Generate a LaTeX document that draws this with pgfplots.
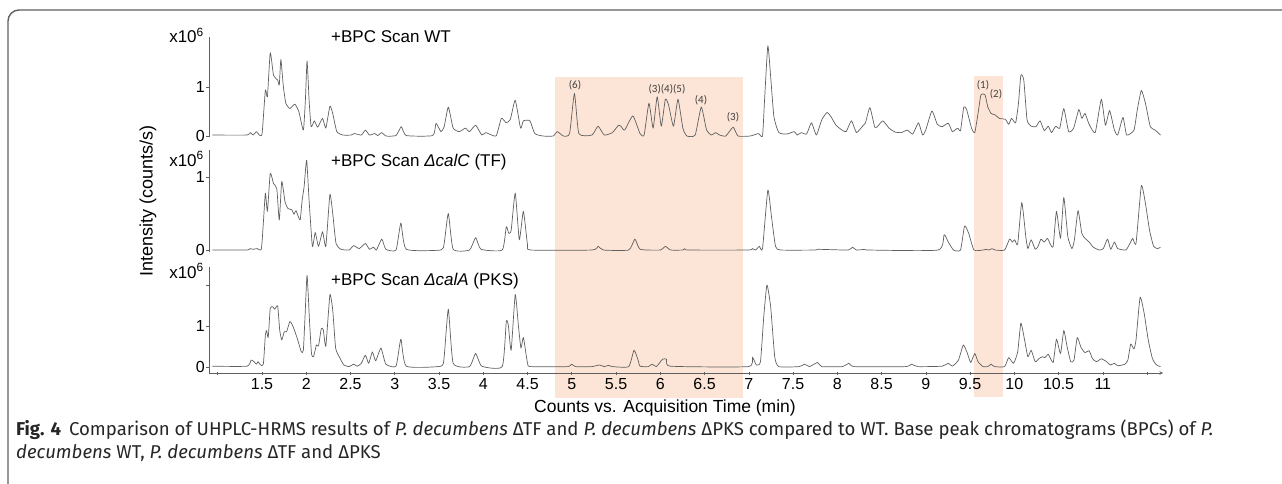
\documentclass[border=0pt]{standalone}
\usepackage{pgfplots}
\pgfplotsset{compat=1.18}
\usepackage{fontspec}
\setmainfont{Liberation Sans}
\newfontfamily\capfont{Fira Sans}
\newfontfamily\peakfont{Carlito}

\definecolor{hilite}{RGB}{252,228,214}
\definecolor{trace}{RGB}{95,95,95}
\definecolor{framec}{RGB}{95,95,95}

% retention time (min) vs intensity (x10^6 counts/s)
\pgfplotstableread{
t I
0.94 0.02
1.33 0.02
1.368 0.07
1.40 0.02
1.437 0.09
1.469 0.02
1.501 0.05
1.538 0.94
1.561 0.80
1.593 1.70
1.630 1.24
1.677 1.14
1.695 1.04
1.713 1.56
1.741 1.01
1.769 0.67
1.815 0.56
1.870 0.65
1.916 0.50
1.967 0.12
1.990 0.73
2.009 1.53
2.032 0.73
2.055 0.19
2.092 0.31
2.129 0.18
2.184 0.36
2.221 0.16
2.267 0.61
2.299 0.46
2.345 0.09
2.415 0.02
2.507 0.02
2.544 0.05
2.622 0.02
2.668 0.12
2.714 0.02
2.774 0.05
2.807 0.01
2.853 0.07
2.899 0.00
3.014 0.01
3.074 0.19
3.130 0.01
3.429 0.01
3.466 0.26
3.521 0.09
3.558 0.19
3.605 0.59
3.660 0.16
3.729 0.09
3.798 0.16
3.844 0.09
3.914 0.22
3.983 0.02
4.029 0.07
4.144 0.00
4.204 0.36
4.260 0.27
4.306 0.34
4.361 0.73
4.421 0.16
4.453 0.31
4.527 0.31
4.582 0.05
4.675 0.00
4.790 0.00
4.836 0.09
4.905 0.00
4.975 0.05
5.030 0.87
5.080 0.05
5.228 0.02
5.297 0.20
5.367 0.02
5.459 0.07
5.528 0.22
5.560 0.19
5.597 0.12
5.690 0.41
5.771 0.05
5.817 0.02
5.872 0.67
5.919 0.16
5.965 0.80
6.011 0.20
6.057 0.75
6.094 0.63
6.149 0.20
6.200 0.75
6.255 0.16
6.301 0.00
6.394 0.02
6.463 0.59
6.523 0.12
6.578 0.02
6.624 0.07
6.670 0.02
6.740 0.00
6.823 0.18
6.878 0.00
7.016 0.00
7.109 0.05
7.155 0.00
7.178 0.73
7.215 1.84
7.247 1.21
7.284 0.39
7.339 0.07
7.432 0.04
7.514 0.09
7.547 0.02
7.593 0.07
7.653 0.04
7.708 0.27
7.764 0.02
7.824 0.33
7.884 0.48
7.930 0.39
7.985 0.22
8.054 0.12
8.100 0.09
8.160 0.31
8.216 0.07
8.285 0.20
8.317 0.26
8.368 0.58
8.423 0.18
8.456 0.20
8.515 0.31
8.585 0.16
8.654 0.08
8.723 0.07
8.792 0.12
8.852 0.04
8.917 0.27
8.963 0.02
8.999 0.12
9.069 0.51
9.129 0.24
9.184 0.19
9.254 0.26
9.300 0.09
9.360 0.16
9.392 0.11
9.429 0.59
9.461 0.54
9.517 0.16
9.553 0.07
9.590 0.46
9.623 0.84
9.669 0.84
9.701 0.59
9.738 0.46
9.784 0.43
9.830 0.36
9.899 0.34
9.936 0.24
9.969 0.36
10.015 0.27
10.047 0.67
10.074 1.24
10.107 1.14
10.144 0.33
10.190 0.20
10.245 0.19
10.291 0.31
10.338 0.11
10.384 0.20
10.420 0.07
10.467 0.20
10.513 0.16
10.559 0.56
10.614 0.09
10.670 0.16
10.729 0.54
10.762 0.36
10.799 0.46
10.845 0.24
10.914 0.07
10.983 0.75
11.029 0.22
11.076 0.52
11.131 0.12
11.168 0.02
11.228 0.38
11.269 0.02
11.352 0.12
11.389 0.53
11.435 0.93
11.481 0.67
11.537 0.19
11.592 0.12
11.652 0.02
}\wt

\pgfplotstableread{
t I
0.94 0.00
1.33 0.00
1.363 0.02
1.40 0.01
1.446 0.02
1.492 0.01
1.515 0.37
1.538 0.78
1.561 0.53
1.593 1.05
1.630 0.91
1.667 0.84
1.695 0.41
1.723 0.94
1.760 0.66
1.792 0.57
1.838 0.55
1.861 0.49
1.884 0.54
1.930 0.41
1.953 0.68
1.976 0.87
2.004 1.23
2.032 0.68
2.069 0.05
2.101 0.24
2.138 0.05
2.184 0.25
2.221 0.05
2.267 0.76
2.299 0.50
2.336 0.09
2.392 0.01
2.484 0.00
2.535 0.06
2.599 0.02
2.668 0.09
2.714 0.01
2.760 0.04
2.793 0.00
2.853 0.15
2.899 0.01
3.014 0.00
3.069 0.37
3.130 0.01
3.521 0.00
3.558 0.09
3.605 0.50
3.660 0.01
3.844 0.00
3.914 0.17
3.974 0.01
4.214 0.00
4.260 0.32
4.287 0.23
4.315 0.27
4.361 0.78
4.407 0.14
4.453 0.53
4.500 0.07
4.536 0.00
5.228 0.00
5.297 0.05
5.357 0.00
5.643 0.00
5.713 0.15
5.773 0.01
6.002 0.00
6.057 0.05
6.117 0.00
6.255 0.00
6.278 0.02
6.315 0.00
6.993 0.00
7.040 0.02
7.076 0.00
7.118 0.05
7.155 0.02
7.215 0.82
7.256 0.46
7.302 0.05
7.362 0.00
7.754 0.00
7.787 0.01
8.124 0.00
8.170 0.04
8.216 0.00
8.317 0.01
8.354 0.00
9.138 0.00
9.207 0.21
9.254 0.11
9.313 0.00
9.392 0.00
9.438 0.33
9.484 0.23
9.544 0.00
9.646 0.00
9.682 0.01
9.715 0.00
9.747 0.02
9.784 0.00
9.890 0.00
9.946 0.15
9.978 0.11
10.005 0.14
10.038 0.08
10.084 0.65
10.130 0.18
10.153 0.02
10.190 0.14
10.236 0.01
10.268 0.05
10.301 0.15
10.338 0.11
10.375 0.16
10.407 0.08
10.439 0.05
10.476 0.53
10.522 0.16
10.559 0.72
10.605 0.18
10.651 0.02
10.679 0.14
10.720 0.54
10.762 0.23
10.799 0.16
10.845 0.11
10.891 0.04
10.960 0.00
11.006 0.02
11.053 0.15
11.089 0.01
11.131 0.11
11.168 0.02
11.260 0.00
11.306 0.09
11.338 0.16
11.375 0.09
11.435 0.88
11.481 0.64
11.528 0.27
11.574 0.05
11.620 0.02
11.652 0.04
}\calC

\pgfplotstableread{
t I
0.94 0.02
1.33 0.02
1.377 0.17
1.409 0.13
1.437 0.07
1.455 0.13
1.483 0.05
1.515 0.07
1.538 0.78
1.552 0.89
1.570 0.72
1.593 1.43
1.621 1.47
1.644 1.41
1.677 1.49
1.700 0.90
1.723 0.66
1.751 0.86
1.778 0.86
1.815 1.11
1.852 0.98
1.898 0.70
1.944 0.37
1.967 0.41
1.986 1.23
2.009 2.24
2.036 1.15
2.059 0.33
2.082 0.25
2.115 0.54
2.138 0.51
2.170 0.94
2.193 0.90
2.221 0.51
2.267 1.76
2.299 1.39
2.332 0.46
2.378 0.23
2.424 0.05
2.484 0.01
2.535 0.07
2.576 0.02
2.622 0.09
2.668 0.29
2.705 0.09
2.747 0.37
2.784 0.15
2.844 0.46
2.899 0.07
3.014 0.02
3.069 0.68
3.130 0.02
3.521 0.02
3.558 0.25
3.605 1.41
3.660 0.09
3.844 0.01
3.914 0.33
3.983 0.02
4.214 0.01
4.260 1.11
4.283 1.02
4.315 0.41
4.361 1.77
4.398 0.98
4.426 0.46
4.453 0.72
4.500 0.09
4.536 0.01
4.951 0.01
4.997 0.07
5.043 0.01
5.228 0.01
5.311 0.05
5.367 0.01
5.413 0.04
5.459 0.01
5.643 0.01
5.703 0.41
5.749 0.17
5.771 0.02
5.863 0.01
5.909 0.07
5.956 0.01
6.025 0.19
6.071 0.19
6.117 0.02
6.993 0.01
7.040 0.24
7.086 0.05
7.132 0.13
7.169 1.23
7.205 2.00
7.247 1.47
7.293 0.25
7.339 0.01
7.570 0.01
7.630 0.07
7.685 0.01
7.777 0.11
7.824 0.01
8.054 0.01
8.133 0.09
8.193 0.01
8.769 0.01
8.838 0.07
8.908 0.01
9.184 0.02
9.254 0.09
9.300 0.02
9.369 0.17
9.424 0.54
9.470 0.33
9.507 0.11
9.553 0.33
9.590 0.13
9.646 0.01
9.701 0.01
9.738 0.07
9.775 0.01
9.890 0.01
9.936 0.23
9.991 0.09
10.038 0.37
10.074 1.07
10.116 0.66
10.153 0.25
10.190 0.41
10.236 0.13
10.282 0.21
10.315 0.25
10.347 0.23
10.384 0.31
10.439 0.11
10.476 0.68
10.522 0.33
10.559 0.89
10.596 0.50
10.637 0.13
10.674 0.17
10.711 0.72
10.753 0.48
10.799 0.35
10.845 0.40
10.882 0.21
10.928 0.13
10.983 0.20
11.043 0.13
11.085 0.05
11.131 0.09
11.168 0.03
11.251 0.07
11.283 0.17
11.315 0.56
11.352 0.44
11.375 0.66
11.421 1.70
11.467 1.31
11.513 0.66
11.560 0.21
11.606 0.05
11.652 0.01
}\calA

\pgfplotsset{
  chroma/.style={
    scale only axis, width=954pt,
    xmin=0.901, xmax=11.68,
    axis y line=left,
    axis line style={-, trace, line width=0.6pt},
    tick style={trace, line width=0.6pt},
    tick align=outside, major tick length=3pt,
    tick label style={font=\fontsize{16}{16}\selectfont},
    yticklabel style={inner xsep=1pt},
    /pgf/number format/assume math mode=true,
  },
  trc/.style={trace, line width=0.7pt, line join=round, smooth, tension=0.3},
}

\begin{document}
\begin{tikzpicture}[x=1pt,y=1pt]
\path[use as bounding box] (0,0) rectangle (1282,483);
% frame of the figure panel
\draw[framec, line width=1.4pt, rounded corners=11pt] (8,-10) -- (8,473) -- (1300,473);
% highlighted retention windows
\fill[hilite] (555,85) rectangle (743,405.5);
\fill[hilite] (974,86) rectangle (1003,407);

% WT
\begin{axis}[chroma, at={(209pt,346pt)}, anchor=south west, height=100pt,
  ymin=-0.02, ymax=2.02, axis x line=none, xtick=\empty,
  ytick={0,1}, yticklabels={0,1}]
\addplot[trc] table[x=t, y=I] {\wt};
\end{axis}

% calC (TF)
\begin{axis}[chroma, at={(209pt,231pt)}, anchor=south west, height=102pt,
  ymin=-0.027, ymax=1.37, axis x line=none, xtick=\empty,
  ytick={0,1}, yticklabels={0,1}]
\addplot[trc] table[x=t, y=I] {\calC};
\end{axis}

% calA (PKS)
\begin{axis}[chroma, at={(209pt,110pt)}, anchor=south west, height=106pt,
  ymin=-0.146, ymax=2.44, axis x line=bottom,
  ytick={0,1,2}, yticklabels={0,1,},
  xtick={1,1.5,2,2.5,3,3.5,4,4.5,5,5.5,6,6.5,7,7.5,8,8.5,9,9.5,10,10.5,11,11.5},
  xticklabels={,1.5,2,2.5,3,3.5,4,4.5,5,5.5,6,6.5,7,7.5,8,8.5,9,9.5,10,10.5,11,}]
\addplot[trc] table[x=t, y=I] {\calA};
\end{axis}

% panel titles and exponent labels
\begin{scope}[every node/.style={inner sep=0pt, font=\fontsize{17}{17}\selectfont}]
\node[anchor=base west] at (331,440) {+BPC Scan WT};
\node[anchor=base west] at (331,317) {+BPC Scan \textit{ΔcalC} (TF)};
\node[anchor=base west] at (331,198) {+BPC Scan \textit{ΔcalA} (PKS)};
\node[anchor=base east] at (204,440) {x10\textsuperscript{6}};
\node[anchor=base east] at (204,317) {x10\textsuperscript{6}};
\node[anchor=base east] at (204,205) {x10\textsuperscript{6}};
\node[rotate=90, font=\fontsize{18}{18}\selectfont] at (148,282) {Intensity (counts/s)};
\node[anchor=base, font=\fontsize{17.5}{17.5}\selectfont] at (665,71) {Counts vs. Acquisition Time (min)};
\end{scope}

% peak numbers
\begin{scope}[every node/.style={inner sep=0pt, text=black!75, font=\peakfont\fontsize{11}{11}\selectfont}]
\node at (575,398) {(6)};
\node at (667,394) {(3)(4)(5)};
\node at (701,383) {(4)};
\node at (733,366) {(3)};
\node at (983,398) {(1)};
\node at (996,389) {(2)};
\end{scope}

% caption
\begin{scope}[every node/.style={inner sep=0pt, anchor=base west, text=black!85, font=\capfont\fontsize{18.6}{18.6}\selectfont}]
\node at (16,48) {\textbf{Fig. 4}\hspace{8pt}Comparison of UHPLC-HRMS results of \textit{P. decumbens} ΔTF and \textit{P. decumbens} ΔPKS compared to WT. Base peak chromatograms (BPCs) of \textit{P.}};
\node at (16,25) {\textit{decumbens} WT, \textit{P. decumbens} ΔTF and ΔPKS};
\end{scope}
\end{tikzpicture}
\end{document}
